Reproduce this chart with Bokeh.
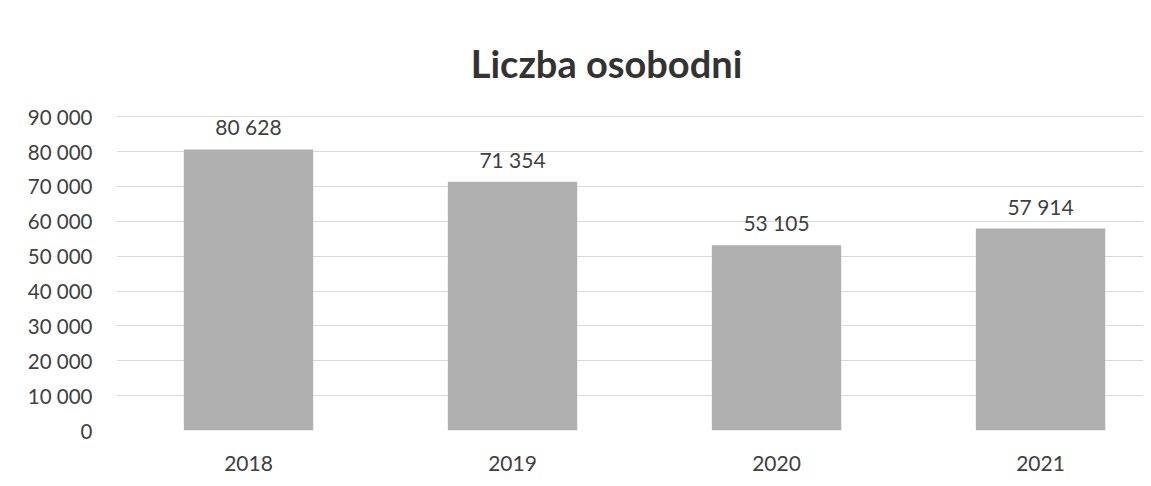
from bokeh.plotting import figure
from bokeh.models import (ColumnDataSource, Range1d, FixedTicker, Label, LabelSet)
from bokeh.core.properties import value
from bokeh.embed import file_html
from bokeh.resources import INLINE

# ---- data ----
years = ["2018", "2019", "2020", "2021"]
values = [80628, 71354, 53105, 57914]
y_ticks = [0, 10000, 20000, 30000, 40000, 50000, 60000, 70000, 80000, 90000]
y_tick_labels = ["0", "10 000", "20 000", "30 000", "40 000", "50 000",
                 "60 000", "70 000", "80 000", "90 000"]
title_text = "Liczba osobodni"

xs = list(range(len(years)))
labels = [f"{v:,}".replace(",", " ") for v in values]
src = ColumnDataSource(dict(x=xs, top=values, label=labels))

FONT = "Lato"
TXT = "#404040"

# layout: frame spans y px 20..429; 90 000 sits at px 116
FRAME_TOP, ZERO_PX, TOP_TICK_PX = 20, 429, 116
y_end = 90000 * (ZERO_PX - FRAME_TOP) / (ZERO_PX - TOP_TICK_PX)

p = figure(width=1143, height=473, output_backend="svg", toolbar_location=None,
           x_range=Range1d(-0.5, 3.39), y_range=Range1d(0, y_end),
           min_border_left=116, min_border_right=0, min_border_top=FRAME_TOP,
           min_border_bottom=40)

p.vbar(x="x", top="top", width=0.49, source=src, fill_color="#afafaf",
       line_color=None)

p.add_layout(LabelSet(x="x", y="top", text="label", source=src,
                      text_align="center", text_baseline="bottom", y_offset=10,
                      text_font=value(FONT), text_font_size="21px",
                      text_color=TXT))

# chart title (centred at px 606, text raised to match the reference)
title_y = 90000 * (ZERO_PX - 62) / (ZERO_PX - TOP_TICK_PX)
title_x = -0.5 + (606 - 116) * 3.89 / 1027
p.add_layout(Label(x=title_x, y=title_y, text=title_text, text_align="center",
                   text_baseline="alphabetic", text_font=FONT,
                   text_font_size="38px", text_font_style="bold",
                   text_color="#333333"))

p.outline_line_color = None
p.xgrid.grid_line_color = None
p.ygrid.grid_line_color = "#d9d9d9"
p.ygrid.grid_line_width = 1
p.ygrid.ticker = FixedTicker(ticks=y_ticks)

p.yaxis.ticker = FixedTicker(ticks=y_ticks)
p.yaxis.major_label_overrides = {t_: l for t_, l in zip(y_ticks, y_tick_labels)}
p.xaxis.ticker = FixedTicker(ticks=xs)
p.xaxis.major_label_overrides = {x: y for x, y in zip(xs, years)}

for ax in (p.xaxis[0], p.yaxis[0]):
    ax.axis_line_color = None
    ax.major_tick_line_color = None
    ax.minor_tick_line_color = None
    ax.major_label_text_font = FONT
    ax.major_label_text_font_size = "21px"
    ax.major_label_text_color = TXT

p.yaxis.major_label_text_font_size = "20.5px"
p.yaxis.major_label_standoff = 18
p.xaxis.major_label_standoff = 19

open("out.html", "w").write(file_html(p, INLINE))
